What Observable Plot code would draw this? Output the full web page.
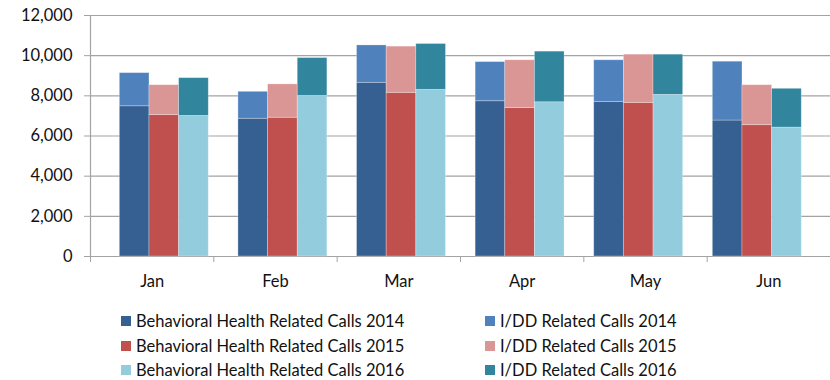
<!DOCTYPE html>
<html>
<head>
<meta charset="utf-8">
<script src="https://cdn.jsdelivr.net/npm/d3@7"></script>
<script src="https://cdn.jsdelivr.net/npm/@observablehq/plot@0.6"></script>
<style>
  html, body { margin: 0; padding: 0; background: #fff; }
  #chart { position: relative; width: 830px; height: 380px; font-family: Lato, "Open Sans", sans-serif; color: #111; }
  #chart svg.layer { position: absolute; left: 0; top: 0; }
  .legend { position: absolute; left: 121px; top: 309px; display: grid; grid-template-columns: 364px auto; grid-auto-flow: column; grid-template-rows: repeat(3, 24.5px); }
  .legend .item { display: flex; align-items: center; font-size: 16.5px; white-space: nowrap; }
  .legend .sw { width: 10px; height: 10px; margin-right: 5px; flex: none; }
</style>
</head>
<body>
<div id="chart"></div>
<script>
// Monthly call counts, Jan–Jun, by year and call type
const months = ["Jan", "Feb", "Mar", "Apr", "May", "Jun"];
const years = ["2014", "2015", "2016"];

const behavioral2014 = [7480, 6860, 8650, 7730, 7700, 6770];
const behavioral2015 = [7040, 6910, 8150, 7390, 7650, 6540];
const behavioral2016 = [7000, 8000, 8300, 7680, 8050, 6420];
const idd2014 = [1650, 1340, 1860, 1950, 2070, 2930];
const idd2015 = [1490, 1660, 2300, 2380, 2400, 1990];
const idd2016 = [1880, 1880, 2280, 2520, 2000, 1930];

const seriesNames = [
  "Behavioral Health Related Calls 2014",
  "Behavioral Health Related Calls 2015",
  "Behavioral Health Related Calls 2016",
  "I/DD Related Calls 2014",
  "I/DD Related Calls 2015",
  "I/DD Related Calls 2016"
];
const seriesColors = ["#376092", "#c0504d", "#93cddd", "#4f81bd", "#d99694", "#31859c"];

const yTicks = [0, 2000, 4000, 6000, 8000, 10000, 12000];

// Long-format rows; behavioral first so it sits at the bottom of each stack
const behavioral = {"2014": behavioral2014, "2015": behavioral2015, "2016": behavioral2016};
const idd = {"2014": idd2014, "2015": idd2015, "2016": idd2016};
const rows = [];
months.forEach((month, i) => {
  years.forEach(year => {
    rows.push({month, year, series: `Behavioral Health Related Calls ${year}`, value: behavioral[year][i]});
    rows.push({month, year, series: `I/DD Related Calls ${year}`, value: idd[year][i]});
  });
});

const W = 830, H = 300, TOP = 15, BOTTOM = 44;
const gray = "#a3a3a3";
const font = {fontFamily: "Lato, 'Open Sans', sans-serif", fontSize: "16.5px", color: "#111", overflow: "visible"};

// Axes and gridlines
const frame = Plot.plot({
  width: W, height: H,
  marginLeft: 90, marginRight: 0, marginTop: TOP, marginBottom: BOTTOM,
  style: font,
  x: {domain: [0, months.length]},
  y: {domain: [0, 12000]},
  marks: [
    Plot.gridY(yTicks, {stroke: gray, strokeOpacity: 1, strokeWidth: 1.2}),
    Plot.ruleY([0], {stroke: gray, strokeWidth: 1.2}),
    Plot.ruleX([0], {stroke: gray, strokeWidth: 1.2}),
    Plot.axisY(yTicks, {tickSize: 6, tickPadding: 12, tickFormat: d3.format(","), stroke: gray, fill: "#111"}),
    Plot.axisX(d3.range(months.length + 1), {tickSize: 6, tickFormat: () => "", stroke: gray}),
    Plot.axisX(months.map((_, i) => i + 0.5), {tickSize: 0, tickPadding: 19, tickFormat: d => months[Math.floor(d)], fill: "#111"})
  ]
});
frame.classList.add("layer");

// Clustered stacked bars
const bars = Plot.plot({
  width: W, height: H,
  marginLeft: 104.5, marginRight: 13.9, marginTop: TOP, marginBottom: BOTTOM,
  style: {...font, background: "none"},
  fx: {domain: months, paddingInner: 0.25, paddingOuter: 0.125, round: false, axis: null},
  x: {domain: years, padding: 0, round: false, axis: null},
  y: {domain: [0, 12000], axis: null},
  color: {domain: seriesNames, range: seriesColors},
  marks: [
    Plot.barY(rows, {fx: "month", x: "year", y: "value", fill: "series", stroke: "#fff", strokeOpacity: 0.35, strokeWidth: 0.8})
  ]
});
bars.classList.add("layer");

const chart = document.getElementById("chart");
chart.appendChild(frame);
chart.appendChild(bars);

// Two-column legend beneath the plot
const color = bars.scale("color");
const legend = d3.select(chart).append("div").attr("class", "legend");
const items = legend.selectAll(".item").data(seriesNames).join("div").attr("class", "item");
items.append("span").attr("class", "sw").style("background", d => color.apply(d));
items.append("span").text(d => d);
</script>
</body>
</html>
